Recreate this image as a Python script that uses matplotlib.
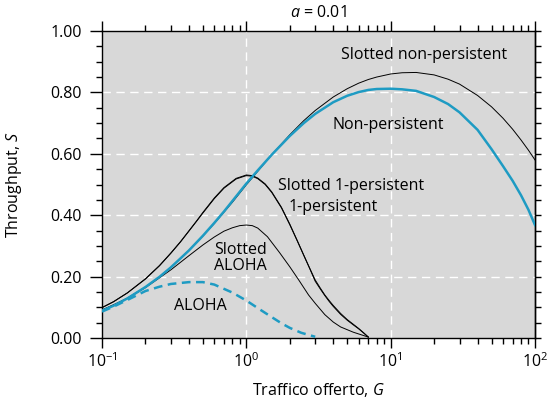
import numpy as np
import matplotlib
matplotlib.use('Agg')
import matplotlib.pyplot as plt
from matplotlib.ticker import LogLocator, FixedLocator, NullFormatter, FormatStrFormatter

plt.rcParams['font.family'] = ['Open Sans', 'DejaVu Sans']
plt.rcParams['mathtext.fontset'] = 'custom'
plt.rcParams['mathtext.rm'] = 'Open Sans'
plt.rcParams['mathtext.it'] = 'Open Sans:italic'

# data (G = offered traffic, S = throughput)
g_np = [0.1, 0.12, 0.15, 0.2, 0.25, 0.3, 0.4, 0.5, 0.6, 0.7, 0.8, 1.0, 1.2, 1.5, 2, 2.5, 3, 4, 5, 6, 7, 8,
        10, 12, 15, 20, 25, 30, 40, 50, 60, 70, 80, 90, 100]
s_np = [0.089, 0.105, 0.129, 0.166, 0.199, 0.230, 0.285, 0.333, 0.375, 0.412, 0.446, 0.503, 0.546, 0.597,
        0.658, 0.700, 0.730, 0.768, 0.789, 0.801, 0.808, 0.811, 0.812, 0.810, 0.805, 0.785, 0.762, 0.735,
        0.678, 0.615, 0.560, 0.512, 0.465, 0.418, 0.368]
s_snp = [0.091, 0.107, 0.130, 0.166, 0.199, 0.230, 0.285, 0.332, 0.373, 0.410, 0.442, 0.499, 0.543, 0.597,
         0.662, 0.708, 0.741, 0.785, 0.812, 0.830, 0.842, 0.850, 0.860, 0.864, 0.865, 0.857, 0.843, 0.827,
         0.790, 0.753, 0.716, 0.680, 0.645, 0.612, 0.580]

g_1p = [0.1, 0.12, 0.15, 0.2, 0.25, 0.3, 0.35, 0.4, 0.45, 0.5, 0.6, 0.7, 0.85, 1.0, 1.1, 1.2, 1.35, 1.5,
        1.75, 2.0, 2.25, 2.5, 2.75, 3.0, 3.25, 3.5, 3.75, 4.0, 4.5, 5.0, 5.5, 6.0, 6.5, 7.0]
s_1p = [0.099, 0.118, 0.147, 0.192, 0.235, 0.276, 0.313, 0.348, 0.379, 0.407, 0.454, 0.488, 0.518, 0.529,
        0.527, 0.519, 0.500, 0.474, 0.424, 0.369, 0.317, 0.269, 0.226, 0.185, 0.160, 0.138, 0.119, 0.103,
        0.077, 0.058, 0.043, 0.030, 0.016, 0.003]
s_s1p = [0.099, 0.118, 0.147, 0.193, 0.236, 0.277, 0.314, 0.349, 0.380, 0.409, 0.456, 0.490, 0.520, 0.531,
         0.529, 0.521, 0.502, 0.476, 0.426, 0.371, 0.318, 0.270, 0.227, 0.189, 0.163, 0.140, 0.122, 0.106,
         0.080, 0.060, 0.045, 0.031, 0.017, 0.003]

g_sa = [0.1, 0.15, 0.2, 0.3, 0.4, 0.5, 0.6, 0.7, 0.8, 0.9, 1.0, 1.1, 1.2, 1.4, 1.7, 2.0, 2.3, 2.7, 3.0,
        3.5, 4.0, 4.5, 5.5, 7.0]
s_sa = [0.091, 0.129, 0.164, 0.222, 0.268, 0.303, 0.329, 0.348, 0.359, 0.366, 0.368, 0.366, 0.358, 0.330,
        0.278, 0.232, 0.190, 0.140, 0.113, 0.076, 0.052, 0.036, 0.019, 0.003]

g_a = [0.1, 0.12, 0.15, 0.2, 0.25, 0.3, 0.4, 0.5, 0.6, 0.8, 1.0, 1.25, 1.5, 1.75, 2.0, 2.4, 3.0]
s_a = [0.086, 0.102, 0.124, 0.153, 0.167, 0.176, 0.182, 0.182, 0.174, 0.148, 0.122, 0.092, 0.068, 0.048,
       0.033, 0.017, 0.004]

y_major = [0.0, 0.2, 0.4, 0.6, 0.8, 1.0]
y_minor = [i * 0.05 for i in range(21)]

blue = '#1e9bc3'
bg = '#d8d8d8'

fig = plt.figure(figsize=(5.49, 4.05), dpi=100)
ax = fig.add_axes([102/549, 1-338/405, 433/549, 307/405])
ax.set_facecolor(bg)

ax.set_xscale('log')
ax.set_xlim(0.1, 100)
ax.set_ylim(0, 1)

# grid
for gx in [1, 10]:
    ax.axvline(gx, color='white', lw=1, dashes=(6, 4), zorder=1)
for gy in y_major[1:-1]:
    ax.axhline(gy, color='white', lw=1, dashes=(6, 4), zorder=1)

ax.plot(g_np, s_snp, color='black', lw=0.7, zorder=3)
ax.plot(g_1p, s_1p, color='black', lw=0.7, zorder=3)
ax.plot(g_1p, s_s1p, color='black', lw=0.7, zorder=3)
ax.plot(g_sa, s_sa, color='black', lw=0.7, zorder=3)
ax.plot(g_np, s_np, color=blue, lw=1.8, zorder=4)
ax.plot(g_a, s_a, color=blue, lw=1.8, dashes=(3.5, 2.2), zorder=4)

fs = 11.5
ax.text(17.1, 0.922, 'Slotted non-persistent', ha='center', va='center', fontsize=fs)
ax.text(9.63, 0.694, 'Non-persistent', ha='center', va='center', fontsize=fs)
ax.text(5.29, 0.495, 'Slotted 1-persistent', ha='center', va='center', fontsize=fs)
ax.text(4.0, 0.427, '1-persistent', ha='center', va='center', fontsize=fs)
ax.text(0.91, 0.26, 'Slotted\nALOHA', ha='center', va='center', fontsize=fs, linespacing=1.05)
ax.text(0.477, 0.103, 'ALOHA', ha='center', va='center', fontsize=fs)

# ticks
ax.xaxis.set_major_locator(FixedLocator([0.1, 1, 10, 100]))
ax.xaxis.set_minor_locator(LogLocator(base=10, subs=np.arange(2, 10)))
ax.xaxis.set_minor_formatter(NullFormatter())
ax.set_xticklabels([r'$10^{-1}$', r'$10^{0}$', r'$10^{1}$', r'$10^{2}$'])
ax.yaxis.set_major_locator(FixedLocator(y_major))
ax.yaxis.set_minor_locator(FixedLocator(y_minor))
ax.yaxis.set_major_formatter(FormatStrFormatter('%.2f'))

ax.tick_params(axis='x', which='major', direction='out', length=7.5, width=1, top=True,
               labelsize=fs, pad=3)
ax.tick_params(axis='x', which='minor', direction='out', length=4.5, width=1, top=True)
ax.tick_params(axis='y', which='major', direction='out', length=8.5, width=1, labelsize=fs, pad=6)
ax.tick_params(axis='y', which='minor', direction='out', length=4.5, width=1)

sec = ax.secondary_yaxis('right')
sec.yaxis.set_major_locator(FixedLocator(y_minor))
sec.yaxis.set_minor_locator(FixedLocator([]))
sec.tick_params(which='both', direction='out', length=4, width=1, labelright=False)
sec.spines['right'].set_linewidth(1)

for sp in ax.spines.values():
    sp.set_linewidth(1)

fig.text(318.5/549, 1-13/405, r'$a$ = 0.01', ha='center', va='center', fontsize=fs)
fig.text(318.5/549, 1-390/405, r'Traffico offerto, $G$', ha='center', va='center', fontsize=fs)
fig.text(14/549, 1-185/405, r'Throughput, $S$', ha='center', va='center', rotation=90, fontsize=fs)

fig.savefig('out.png', dpi=100)
